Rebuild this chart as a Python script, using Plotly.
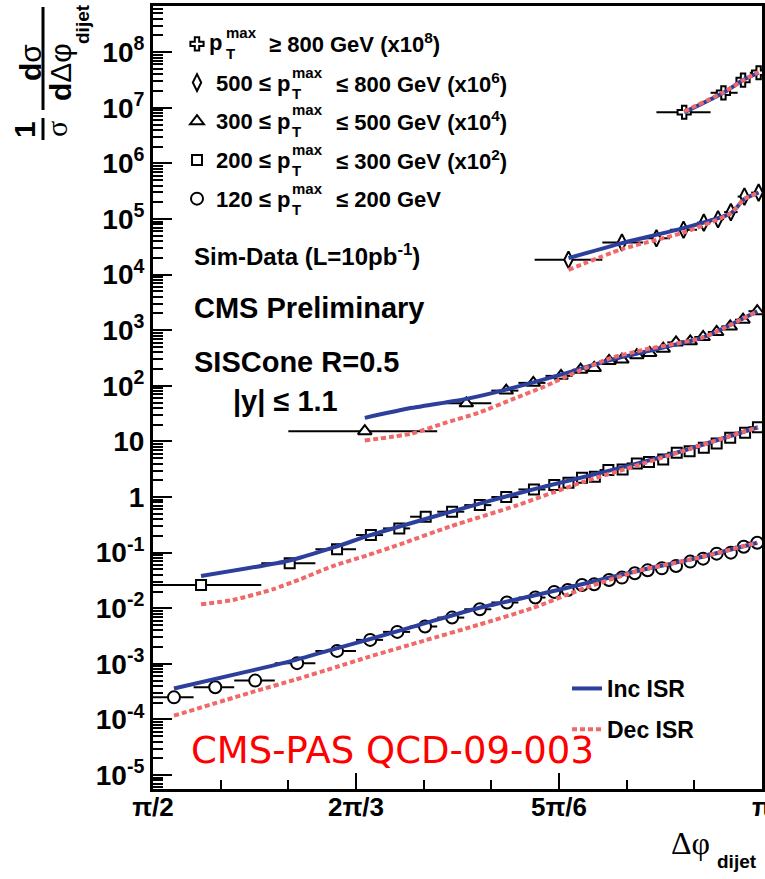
import numpy as np
import plotly.graph_objects as go

# ---------------- data (Δφ in degrees, values as plotted incl. scale factors) -------------
# pT >= 800 GeV (x1e8)
cross_x = [168.5, 174.3, 177.2, 179.5]
cross_edges = [164.4, 172.4, 176.4, 178.2, 180.0]
cross_y = [8.3e6, 1.86e7, 3.15e7, 4.26e7]

# 500-800 GeV (x1e6)
diam_x = [151.4, 159.3, 164.4, 168.4, 171.4, 173.5, 175.4, 177.4, 179.5]
diam_edges = [146.4, 156.4, 162.4, 166.4, 170.4, 172.4, 174.4, 176.4, 178.4, 180.0]
diam_y = [1.85e4, 3.78e4, 4.5e4, 6.4e4, 8.6e4, 9.9e4, 1.33e5, 2.53e5, 2.98e5]

# 300-500 GeV (x1e4)
tri_x = [121.3, 136.3, 142.2, 146.2, 150.3, 153.2, 155.2, 157.4, 159.3, 161.5, 163.4,
         165.4, 167.3, 169.4, 171.3, 173.3, 175.3, 177.2, 179.3]
tri_edges = [110, 132, 140, 144, 148, 152, 154, 156, 158, 160, 162, 164, 166, 168, 170,
             172, 174, 176, 178, 180]
tri_y = [15.3, 48.5, 82, 113, 151, 195, 210, 280, 296, 356, 390, 466, 604, 630, 755,
         929, 1172, 1545, 2200]

# 200-300 GeV (x1e2)
sq_x = [97.1, 110.2, 117.2, 122.2, 126.4, 130.3, 134.2, 138.3, 142.2, 146.3, 149.3, 151.4,
        153.4, 155.3, 157.3, 159.4, 161.5, 163.3, 165.4, 167.4, 169.3, 171.4, 173.3, 175.3,
        177.5, 179.4]
sq_edges = [90, 106, 114, 120, 124, 128, 132, 136, 140, 144, 148, 150, 152, 154, 156, 158,
            160, 162, 164, 166, 168, 170, 172, 174, 176, 178, 180]
sq_y = [0.0262, 0.0643, 0.115, 0.207, 0.273, 0.443, 0.545, 0.716, 1.0, 1.37, 1.64, 1.81,
        2.22, 2.32, 3.05, 3.13, 4.02, 4.25, 4.75, 6.25, 6.68, 7.7, 9.2, 11.6, 14.3, 18.0]

# 120-200 GeV (x1)
circ_x = [93.1, 99.2, 105.1, 111.3, 117.2, 122.1, 126.1, 130.2, 134.2, 138.3, 142.3, 146.5,
          149.3, 151.3, 153.4, 155.2, 157.4, 159.3, 161.2, 163.1, 165.2, 167.3, 169.4, 171.3,
          173.3, 175.4, 177.3, 179.3]
circ_edges = [90, 96, 102, 108, 114, 120, 124, 128, 132, 136, 140, 144, 148, 150, 152, 154,
              156, 158, 160, 162, 164, 166, 168, 170, 172, 174, 176, 178, 180]
circ_y = [2.5e-4, 3.8e-4, 5.0e-4, 1.03e-3, 1.71e-3, 2.70e-3, 3.76e-3, 4.7e-3, 6.8e-3,
          9.6e-3, 1.27e-2, 1.56e-2, 1.97e-2, 2.13e-2, 2.62e-2, 2.7e-2, 3.22e-2, 3.56e-2,
          4.25e-2, 4.81e-2, 5.22e-2, 5.75e-2, 6.9e-2, 7.8e-2, 9.6e-2, 0.100, 0.128, 0.151]

# theory curves: Inc ISR (blue) / Dec ISR (red)
cross_cx = [168.5, 174.3, 177.2, 179.5]
cross_inc = [8.28e6, 1.86e7, 3.15e7, 4.26e7]
cross_dec = [8.6e6, 1.9e7, 3.1e7, 4.4e7]

diam_cx = [151.4, 159.3, 168.4, 175.4, 177.4, 179.5]
diam_inc = [1.98e4, 3.68e4, 6.84e4, 1.27e5, 2.29e5, 2.98e5]
diam_dec = [1.22e4, 2.87e4, 5.71e4, 1.27e5, 2.29e5, 2.98e5]

tri_cx_inc = [121.3, 128.3, 136.3, 142.2, 150.3, 157.4, 165.4, 171.3, 179.3]
tri_inc = [26.5, 40.2, 58.2, 85.5, 159, 287, 490, 742, 2200]
tri_cx_dec = [121.3, 128.3, 133.2, 138.1, 143.0, 147.9, 152.8, 157.7, 162.6, 171.3, 179.3]
tri_dec = [10.4, 13.9, 21.6, 32.7, 56.6, 98, 182, 317, 447, 742, 2200]

sq_cx_inc = [97.1, 110.2, 117.1, 122.0, 130.4, 138.8, 147.2, 157.3, 167.4, 179.4]
sq_inc = [0.038, 0.0724, 0.129, 0.204, 0.407, 0.794, 1.48, 2.95, 6.3, 18.0]
sq_cx_dec = [97.1, 101.8, 107.7, 111.7, 116.6, 121.6, 126.5, 133.9, 143.8, 153.5, 160.9,
             167.4, 179.4]
sq_dec = [0.0118, 0.0141, 0.0219, 0.0331, 0.0575, 0.089, 0.141, 0.295, 0.71, 1.86, 3.5,
          6.2, 18.0]

circ_cx = [93.1, 105, 111, 117, 122, 130, 138, 146, 154, 162, 170, 179.3]
circ_inc = [3.6e-4, 7.8e-4, 1.17e-3, 1.88e-3, 2.77e-3, 5.3e-3, 1.0e-2, 1.66e-2, 2.81e-2,
            4.8e-2, 7.8e-2, 0.151]
circ_dec = [1.17e-4, 3.2e-4, 5.2e-4, 8.7e-4, 1.35e-3, 2.6e-3, 5.0e-3, 1.0e-2, 2.35e-2,
            4.8e-2, 7.8e-2, 0.151]

y_tick_vals = [1e-5, 1e-4, 1e-3, 1e-2, 1e-1, 1, 10, 1e2, 1e3, 1e4, 1e5, 1e6, 1e7, 1e8]
y_tick_text = ["10<sup>-5</sup>", "10<sup>-4</sup>", "10<sup>-3</sup>", "10<sup>-2</sup>",
               "10<sup>-1</sup>", "1", "10", "10<sup>2</sup>", "10<sup>3</sup>",
               "10<sup>4</sup>", "10<sup>5</sup>", "10<sup>6</sup>", "10<sup>7</sup>",
               "10<sup>8</sup>"]
x_tick_text = ["π/2", "2π/3", "5π/6", "π"]

# ---------------- figure -------------
W, H = 765, 879
PL, PR, PT, PB = 153, 762, 6, 789
BLUE = "#2d3f9c"
RED = "#f06868"
FONT = "Liberation Sans"


def P(px, py):
    return (px - PL) / (PR - PL), 1 - (py - PT) / (PB - PT)


fig = go.Figure()

series = [
    ("cross", cross_x, cross_edges, cross_y, "cross", 11),
    ("diam", diam_x, diam_edges, diam_y, "diamond-tall", 12),
    ("tri", tri_x, tri_edges, tri_y, "triangle-up", 12),
    ("sq", sq_x, sq_edges, sq_y, "square", 10),
    ("circ", circ_x, circ_edges, circ_y, "circle", 12),
]
for key, xc, edges, yv, sym, sz in series:
    xc = np.array(xc, float)
    e = np.array(edges, float)
    lo, hi = e[:-1], e[1:]
    fig.add_trace(go.Scatter(
        x=np.radians(xc), y=yv, mode="markers", name=" ",
        marker=dict(symbol=sym, size=sz, color="white", line=dict(color="black", width=2)),
        error_x=dict(type="data", symmetric=False, array=np.radians(hi - xc),
                     arrayminus=np.radians(xc - lo), color="black", thickness=2, width=0),
        legend="legend2", legendgroup=key, showlegend=True))

curves = [(cross_cx, cross_inc, cross_cx, cross_dec),
          (diam_cx, diam_inc, diam_cx, diam_dec),
          (tri_cx_inc, tri_inc, tri_cx_dec, tri_dec),
          (sq_cx_inc, sq_inc, sq_cx_dec, sq_dec),
          (circ_cx, circ_inc, circ_cx, circ_dec)]
for i, (xi, yi, xd, yd) in enumerate(curves):
    fig.add_trace(go.Scatter(x=np.radians(xi), y=yi, mode="lines", name="Inc ISR",
                             line=dict(color=BLUE, width=4, shape="spline", smoothing=0.6),
                             legend="legend", legendgroup="inc", showlegend=(i == 0)))
for i, (xi, yi, xd, yd) in enumerate(curves):
    fig.add_trace(go.Scatter(x=np.radians(xd), y=yd, mode="lines", name="Dec ISR",
                             line=dict(color=RED, width=4, dash="5px,3px", shape="spline",
                                       smoothing=0.6),
                             legend="legend", legendgroup="dec", showlegend=(i == 0)))

minor_y = [m * 10.0 ** k for k in range(-6, 9) for m in range(2, 10)
           if -5.25 <= np.log10(m * 10.0 ** k) <= 8.83]

fig.update_layout(
    width=W, height=H, margin=dict(l=PL, r=W - PR, t=PT, b=H - PB, autoexpand=False),
    paper_bgcolor="white", plot_bgcolor="white",
    font=dict(family=FONT, color="black"),
    xaxis=dict(range=[np.pi / 2, np.pi], showgrid=False, zeroline=False,
               showline=True, linecolor="black", linewidth=3, mirror=True,
               tickmode="array", tickvals=[np.pi / 2, 2 * np.pi / 3, 5 * np.pi / 6, np.pi],
               ticktext=x_tick_text, ticks="inside", ticklen=16, tickwidth=2,
               tickcolor="black", ticklabelstandoff=-7, ticklabeloverflow="allow",
               tickfont=dict(family=FONT, size=26, color="black", weight="bold"),
               minor=dict(ticks="inside", ticklen=9, tickwidth=2, tickcolor="black",
                          tick0=np.pi / 2, dtick=np.pi / 18),
               automargin=False),
    yaxis=dict(type="log", range=[-5.25, 8.83], showgrid=False, zeroline=False,
               showline=True, linecolor="black", linewidth=3, mirror=True,
               tickmode="array", tickvals=y_tick_vals, ticktext=y_tick_text,
               ticks="inside", ticklen=19, tickwidth=2, tickcolor="black",
               tickfont=dict(family=FONT, size=28, color="black", weight="bold"),
               minor=dict(ticks="inside", ticklen=10, tickwidth=1.5, tickcolor="black",
                          tickmode="array", tickvals=minor_y),
               automargin=False),
    legend=dict(x=P(567, 0)[0], y=P(0, 667)[1], xanchor="left", yanchor="top",
                bgcolor="rgba(0,0,0,0)", borderwidth=0, tracegroupgap=8,
                font=dict(family=FONT, size=23, color="black", weight="bold"),
                itemwidth=30),
    legend2=dict(x=P(177, 0)[0], y=P(0, 25)[1], xanchor="left", yanchor="top",
                 bgcolor="rgba(0,0,0,0)", borderwidth=0, tracegroupgap=11,
                 font=dict(family=FONT, size=19, color="black"), itemwidth=30),
    showlegend=True,
)


def ann(text, px, py, size, bold=True, color="black", xanchor="left", family=FONT, angle=0):
    x, y = P(px, py)
    fig.add_annotation(text=text, x=x, y=y, xref="paper", yref="paper", xanchor=xanchor,
                       yanchor="middle", showarrow=False, textangle=angle, borderpad=0,
                       font=dict(family=family, size=size, color=color,
                                 weight="bold" if bold else "normal"))


# marker legend texts (p_T^max with stacked super/subscript)
rows = [
    (43, "p", 208, 225, "≥ 800 GeV (x10<sup>8</sup>)", 268),
    (83, "500 ≤ p", 215, 291, "≤ 800 GeV (x10<sup>6</sup>)", 335),
    (121, "300 ≤ p", 215, 291, "≤ 500 GeV (x10<sup>4</sup>)", 335),
    (160, "200 ≤ p", 215, 291, "≤ 300 GeV (x10<sup>2</sup>)", 335),
    (199, "120 ≤ p", 215, 291, "≤ 200 GeV", 335),
]
for py, t1, x1, xs, t2, x2 in rows:
    ann(t1, x1, py, 22)
    ann("max", xs, py - 11, 15)
    ann("T", xs, py + 10, 15)
    ann(t2, x2, py, 22)

ann("Sim-Data (L=10pb<sup>-1</sup>)", 193, 255, 24)
ann("CMS Preliminary", 193, 308, 29)
ann("SISCone R=0.5", 193, 362, 29)
ann("|y| ≤ 1.1", 232, 401, 29)
ann("CMS-PAS QCD-09-003", 190, 750, 37, bold=False, color="#ff0000", family="DejaVu Sans")

# axis titles
ann("Δφ", 670, 843, 32, bold=False, family="Liberation Serif")
ann("dijet", 716, 861, 19)
ann("1", 24, 130, 30, xanchor="center", angle=-90)
ann("σ", 56, 129, 30, bold=False, xanchor="center", family="Liberation Serif", angle=-90)
ann("d<span style='font-weight:normal'>σ</span>", 31, 63, 30, xanchor="center", angle=-90)
ann("d<span style='font-weight:normal'>Δφ</span>", 60, 72, 30, xanchor="center", angle=-90)
ann("dijet", 83, 24, 19, xanchor="center", angle=-90)
for (y0, y1) in [(7, 110), (118, 140)]:
    xa, ya = P(43, y0)
    _, yb = P(43, y1)
    fig.add_shape(type="line", xref="paper", yref="paper", x0=xa, x1=xa, y0=ya, y1=yb,
                  line=dict(color="black", width=3))

fig.write_html("out.html")
